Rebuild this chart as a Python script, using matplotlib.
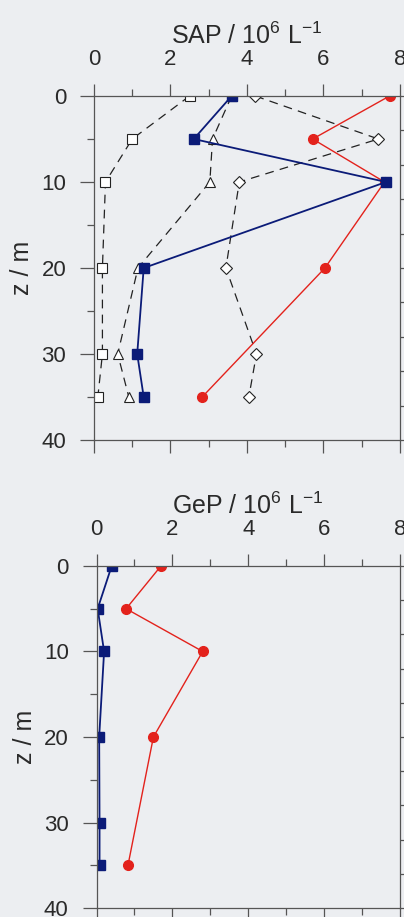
import matplotlib
matplotlib.use("Agg")
import matplotlib.pyplot as plt
from matplotlib.ticker import MultipleLocator

plt.rcParams['font.family'] = ['Liberation Sans', 'DejaVu Sans']
plt.rcParams['mathtext.fontset'] = 'custom'
plt.rcParams['mathtext.rm'] = 'Liberation Sans'

# depths (m)
z = [0, 5, 10, 20, 30, 35]
z_red = [0, 5, 10, 20, 35]

# SAP panel
sap_red = [7.73, 5.72, 7.6, 6.04, 2.83]
sap_blue = [3.6, 2.61, 7.64, 1.3, 1.13, 1.3]
sap_sq = [2.5, 1.0, 0.3, 0.22, 0.22, 0.1]
sap_tri = [3.6, 3.1, 3.03, 1.15, 0.62, 0.91]
sap_dia = [4.22, 7.44, 3.8, 3.45, 4.25, 4.05]

# GeP panel
gep_red = [1.7, 0.78, 2.8, 1.5, 0.83]
gep_blue = [0.4, 0.03, 0.2, 0.07, 0.08, 0.08]

bg = '#eceef1'
axc = '#555555'
txt = '#2a2a2a'
red = '#e3221c'
blue = '#0b1b78'

fig = plt.figure(figsize=(4.04, 9.17), dpi=100, facecolor=bg)
ax1 = fig.add_axes([0.2327, 0.5202, 0.757, 0.3751])
ax2 = fig.add_axes([0.2389, 0.0098, 0.751, 0.3730])


def style(ax, label):
    ax.set_facecolor('none')
    ax.set_xlim(0, 8)
    ax.set_ylim(40, 0)
    for s in ax.spines.values():
        s.set_color(axc)
        s.set_linewidth(0.9)
    ax.xaxis.set_major_locator(MultipleLocator(2))
    ax.xaxis.set_minor_locator(MultipleLocator(1))
    ax.yaxis.set_major_locator(MultipleLocator(10))
    ax.yaxis.set_minor_locator(MultipleLocator(5))
    ax.tick_params(which='both', direction='out', color=axc, width=0.9,
                   top=True, bottom=True, left=True, right=False,
                   labeltop=True, labelbottom=False, labelsize=16,
                   labelcolor=txt)
    ax.tick_params(axis='x', which='major', length=9, pad=10)
    ax.tick_params(axis='x', which='minor', length=5)
    ax.tick_params(axis='y', which='major', length=10, pad=10)
    ax.tick_params(axis='y', which='minor', length=5)
    ax.xaxis.set_label_position('top')
    ax.set_xlabel(label, fontsize=18, color=txt, labelpad=3)
    ax.set_ylabel('z / m', fontsize=18, color=txt, labelpad=5)
    tw = ax.twinx()
    tw.set_ylim(40, 0)
    tw.set_yticks(range(0, 41, 4))
    tw.tick_params(direction='out', length=5, color=axc, width=0.9,
                   labelright=False)
    for s in tw.spines.values():
        s.set_visible(False)


style(ax1, 'SAP / 10$^{\\mathregular{6}}$ L$^{\\mathregular{-1}}$')
style(ax2, 'GeP / 10$^{\\mathregular{6}}$ L$^{\\mathregular{-1}}$')

dash = (0, (7, 5))
ax1.plot(sap_sq, z, color='#222222', lw=0.9, ls=dash, marker='s', ms=6.5,
         mfc='white', mec='#222222', mew=0.8)
ax1.plot(sap_tri, z, color='#222222', lw=0.9, ls=dash, marker='^', ms=7,
         mfc='white', mec='#222222', mew=0.8)
ax1.plot(sap_dia, z, color='#222222', lw=0.9, ls=dash, marker='D', ms=6.5,
         mfc='white', mec='#222222', mew=0.8)
ax1.plot(sap_red, z_red, color=red, lw=1.0, marker='o', ms=7,
         mfc=red, mec=red)
ax1.plot(sap_blue, z, color=blue, lw=1.3, marker='s', ms=7, mfc=blue,
         mec=blue)

ax2.plot(gep_red, z_red, color=red, lw=1.0, marker='o', ms=7, mfc=red,
         mec=red)
ax2.plot(gep_blue, z, color=blue, lw=1.3, marker='s', ms=7, mfc=blue,
         mec=blue)

fig.savefig('out.png', dpi=100, facecolor=bg)
